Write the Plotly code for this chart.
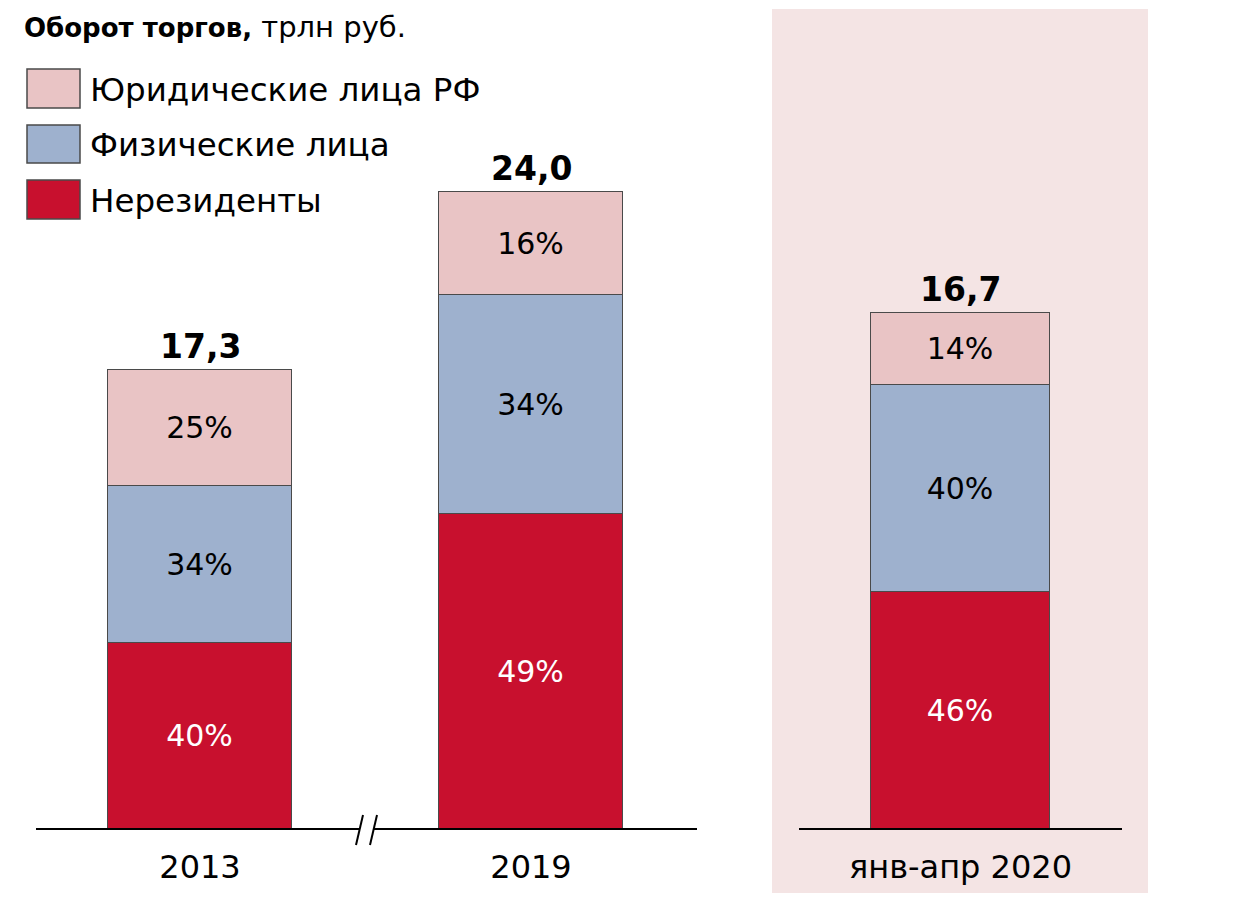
import plotly.graph_objects as go

# ---- data ----
periods = ["2013", "2019", "янв-апр 2020"]
totals = [17.3, 24.0, 16.7]
series_names = ["Нерезиденты", "Физические лица", "Юридические лица РФ"]
nonresidents_pct = [40, 49, 46]
individuals_pct = [34, 34, 40]
legal_pct = [25, 16, 14]
title_bold = "Оборот торгов,"
title_rest = " трлн руб."

# ---- style ----
W, H = 1227, 893
OFF = 8  # page body margin
FONT = "DejaVu Sans"
colors = ["#C8102E", "#9EB1CE", "#E9C4C5"]
text_colors = ["white", "black", "black"]
panel_bg = "#F4E4E4"
outline = "#4a4a4a"

def px_x(p):
    return (p - OFF) / W

def px_y(p):
    return 1 - (p - OFF) / H

pct_series = [nonresidents_pct, individuals_pct, legal_pct]
sums = [sum(s[i] for s in pct_series) for i in range(len(periods))]

left_idx = [0, 1]
right_idx = [2]
pos = {0: 0, 1: 1, 2: 0}  # position of each period on its panel axis

fig = go.Figure()
for k, (name, pcts) in enumerate(zip(series_names, pct_series)):
    for idx, xa, ya in ((left_idx, "x", "y"), (right_idx, "x2", "y2")):
        fig.add_trace(go.Bar(
            x=[pos[i] for i in idx],
            y=[totals[i] * pcts[i] / sums[i] for i in idx],
            text=[f"{pcts[i]}%" for i in idx],
            textposition="inside",
            insidetextanchor="middle",
            textangle=0,
            textfont=dict(family=FONT, size=30, color=text_colors[k]),
            marker=dict(color=colors[k], line=dict(color=outline, width=1)),
            width=0.556,
            name=name,
            showlegend=False,
            hoverinfo="skip",
            xaxis=xa, yaxis=ya,
        ))

base_y = 829
top_y = 9
dom_y = [px_y(base_y), px_y(top_y)]
span_px = base_y - top_y
left_scale = 26.55   # px per unit
right_scale = 30.9

tickfont = dict(family=FONT, size=32, color="black")
fig.update_layout(
    width=W, height=H,
    margin=dict(l=0, r=0, t=0, b=0),
    paper_bgcolor="white",
    plot_bgcolor="rgba(0,0,0,0)",
    barmode="stack",
    bargap=0,
    xaxis=dict(domain=[px_x(36), px_x(697)], range=[(36 - 200) / 331, 1 + (697 - 531) / 331],
               tickmode="array", tickvals=[pos[i] for i in left_idx], ticktext=[periods[i] for i in left_idx],
               showline=False, showgrid=False, zeroline=False,
               tickfont=tickfont, ticks="", ticklabelstandoff=16),
    yaxis=dict(domain=dom_y, range=[0, span_px / left_scale], visible=False),
    xaxis2=dict(domain=[px_x(799), px_x(1122)], range=[-0.5, 0.5],
                tickmode="array", tickvals=[pos[i] for i in right_idx], ticktext=[periods[i] for i in right_idx],
                anchor="y2", showline=False, showgrid=False, zeroline=False,
                tickfont=tickfont, ticks="", ticklabelstandoff=16),
    yaxis2=dict(domain=dom_y, range=[0, span_px / right_scale], visible=False, anchor="x2"),
)

shapes = []
# right panel background
shapes.append(dict(type="rect", xref="paper", yref="paper", x0=px_x(772), x1=px_x(1148),
                   y0=px_y(893), y1=px_y(9), fillcolor=panel_bg, line=dict(width=0), layer="below"))
# baselines
for x0, x1 in ((36, 360), (373, 697), (799, 1122)):
    shapes.append(dict(type="line", xref="paper", yref="paper", x0=px_x(x0), x1=px_x(x1),
                       y0=px_y(base_y), y1=px_y(base_y), line=dict(color="black", width=2)))
# axis break marks
for dx in (0, 14):
    shapes.append(dict(type="line", xref="paper", yref="paper", x0=px_x(363 + dx), x1=px_x(356 + dx),
                       y0=px_y(815), y1=px_y(845), line=dict(color="black", width=2)))
# legend squares
leg_rows = [(69, 108), (125, 163), (180, 219)]
legend_order = [2, 1, 0]
annotations = []
for (y0, y1), k in zip(leg_rows, legend_order):
    shapes.append(dict(type="rect", xref="paper", yref="paper", x0=px_x(27), x1=px_x(80),
                       y0=px_y(y1), y1=px_y(y0), fillcolor=colors[k], line=dict(color=outline, width=1.5)))
    annotations.append(dict(xref="paper", yref="paper", x=px_x(88), y=px_y((y0 + y1) / 2 + 1),
                            xanchor="left", yanchor="middle", showarrow=False,
                            text=series_names[k], font=dict(family=FONT, size=32.5, color="black")))

# title
annotations.append(dict(xref="paper", yref="paper", x=px_x(22), y=px_y(27), xanchor="left", yanchor="middle",
                        showarrow=False,
                        text=f"<b>{title_bold}</b><span style='font-size:29px'>{title_rest}</span>",
                        font=dict(family=FONT, size=26, color="black")))
# totals
for i in range(len(periods)):
    xa, ya = ("x", "y") if i in left_idx else ("x2", "y2")
    annotations.append(dict(xref=xa, yref=ya, x=pos[i], y=totals[i], xanchor="center", yanchor="bottom",
                            yshift=2, showarrow=False, text=f"<b>{totals[i]:.1f}</b>".replace(".", ","),
                            font=dict(family=FONT, size=33, color="black")))

fig.update_layout(shapes=shapes, annotations=annotations)
fig.write_html("out.html")
